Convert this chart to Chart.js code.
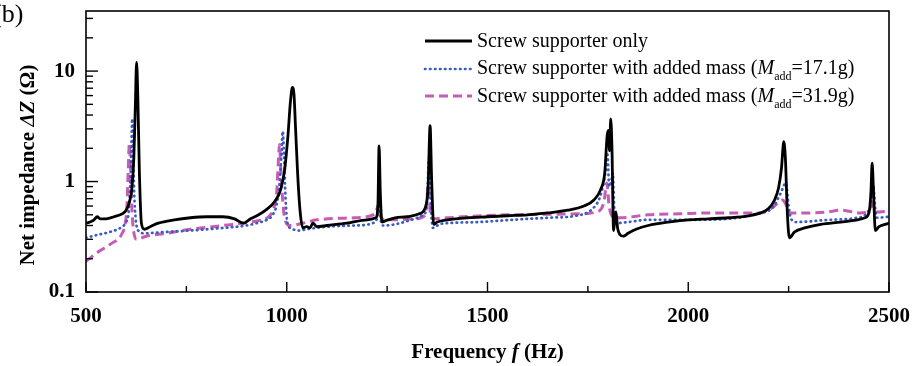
<!DOCTYPE html>
<html>
<head>
<meta charset="utf-8">
<script src="https://cdn.jsdelivr.net/npm/chart.js@4.4.0/dist/chart.umd.min.js"></script>
<style>
  html, body { margin: 0; padding: 0; background: #fff; }
  canvas { display: block; }
</style>
</head>
<body>
<canvas id="impedanceChart" width="913" height="366"></canvas>
<script>
// Screw supporter only
const freqOnly = [500, 510, 520, 528, 535, 550, 570, 590, 600, 608, 614, 619, 623, 626, 629, 633, 638, 645, 660, 680,
    720, 760, 800, 840, 870, 892, 910, 930, 950, 970, 985, 995, 1003, 1009, 1014, 1018, 1022, 1027, 1033, 1040,
    1050, 1058, 1065, 1075, 1100, 1150, 1200, 1222, 1227, 1230, 1233, 1237, 1245, 1270, 1300, 1330, 1345, 1352, 1357, 1361,
    1366, 1375, 1400, 1450, 1500, 1550, 1600, 1650, 1700, 1740, 1765, 1782, 1792, 1798, 1801, 1804, 1807, 1810, 1814, 1817,
    1820, 1824, 1830, 1838, 1850, 1870, 1900, 1950, 2000, 2050, 2100, 2150, 2180, 2200, 2215, 2225, 2232, 2238, 2242, 2247,
    2252, 2265, 2290, 2330, 2380, 2420, 2440, 2450, 2455, 2458, 2461, 2466, 2475, 2490, 2500];
const zOnly = [0.42, 0.43, 0.45, 0.48, 0.46, 0.46, 0.48, 0.51, 0.55, 0.65, 0.85, 1.6, 5, 12, 6, 1.2, 0.42, 0.37, 0.39, 0.42,
    0.45, 0.47, 0.48, 0.48, 0.46, 0.42, 0.46, 0.50, 0.56, 0.66, 0.85, 1.3, 2.6, 5.2, 7.1, 6.2, 3.0, 1.2, 0.55, 0.38,
    0.39, 0.38, 0.42, 0.39, 0.40, 0.42, 0.45, 0.47, 0.6, 2.1, 0.8, 0.43, 0.44, 0.47, 0.48, 0.51, 0.58, 0.9, 3.2, 1.0,
    0.41, 0.43, 0.45, 0.47, 0.48, 0.49, 0.50, 0.52, 0.55, 0.60, 0.68, 0.85, 1.2, 2.6, 2.9, 1.9, 3.7, 2.0, 0.36, 0.45,
    0.53, 0.38, 0.33, 0.32, 0.34, 0.37, 0.40, 0.43, 0.45, 0.46, 0.47, 0.49, 0.52, 0.57, 0.68, 0.88, 1.3, 2.3, 1.6, 0.5,
    0.31, 0.35, 0.38, 0.41, 0.43, 0.45, 0.47, 0.52, 0.8, 1.47, 0.9, 0.36, 0.39, 0.41, 0.42];

// Screw supporter with added mass, 17.1 g
const freqM17 = [500, 530, 560, 590, 600, 606, 610, 613, 615, 617, 620, 624, 630, 645, 700, 760, 840, 900, 925, 950,
    965, 975, 982, 987, 990, 993, 997, 1002, 1015, 1030, 1050, 1100, 1170, 1220, 1226, 1230, 1234, 1240, 1270, 1310,
    1340, 1349, 1354, 1358, 1364, 1380, 1400, 1480, 1560, 1650, 1720, 1760, 1780, 1790, 1796, 1799, 1803, 1808, 1812, 1816,
    1822, 1850, 1900, 1950, 2000, 2100, 2180, 2210, 2230, 2243, 2250, 2256, 2270, 2350, 2420, 2445, 2456, 2461, 2465, 2470,
    2500];
const zM17 = [0.31, 0.33, 0.35, 0.39, 0.43, 0.52, 0.9, 2.0, 3.7, 2.2, 0.8, 0.45, 0.36, 0.34, 0.35, 0.36, 0.38, 0.40, 0.42, 0.45,
    0.50, 0.62, 0.95, 1.8, 2.85, 1.8, 0.7, 0.42, 0.37, 0.36, 0.37, 0.39, 0.40, 0.43, 0.5, 0.71, 0.45, 0.40, 0.41, 0.45,
    0.50, 0.6, 1.63, 0.7, 0.38, 0.41, 0.42, 0.43, 0.45, 0.47, 0.49, 0.56, 0.72, 1.0, 1.4, 1.75, 0.9, 1.0, 1.19, 0.53,
    0.42, 0.43, 0.45, 0.45, 0.45, 0.46, 0.52, 0.58, 0.78, 0.97, 0.6, 0.46, 0.43, 0.45, 0.47, 0.52, 0.65, 0.93, 0.6, 0.47,
    0.48];

// Screw supporter with added mass, 31.9 g
const freqM32 = [500, 530, 560, 590, 598, 602, 605, 608, 611, 614, 618, 626, 650, 700, 760, 840, 925, 955, 968, 975,
    979, 982, 985, 989, 995, 1008, 1040, 1075, 1170, 1220, 1229, 1237, 1260, 1320, 1345, 1353, 1358, 1365, 1400, 1560,
    1730, 1770, 1790, 1797, 1803, 1812, 1830, 1900, 1980, 2050, 2100, 2180, 2212, 2235, 2245, 2252, 2300, 2345, 2380, 2428,
    2450, 2459, 2466, 2500];
const zM32 = [0.19, 0.23, 0.27, 0.34, 0.42, 0.6, 1.2, 2.2, 1.3, 0.6, 0.37, 0.30, 0.32, 0.34, 0.37, 0.40, 0.44, 0.48, 0.58, 0.8,
    1.5, 2.16, 1.3, 0.75, 0.46, 0.40, 0.42, 0.45, 0.47, 0.51, 0.62, 0.46, 0.45, 0.46, 0.50, 0.91, 0.5, 0.46, 0.47, 0.50,
    0.51, 0.53, 0.65, 0.97, 0.6, 0.48, 0.47, 0.50, 0.51, 0.52, 0.52, 0.52, 0.59, 0.68, 0.6, 0.52, 0.52, 0.53, 0.55, 0.52,
    0.55, 0.62, 0.53, 0.54];

const seriesLabels = [
    'Screw supporter only',
    'Screw supporter with added mass (Madd=17.1g)',
    'Screw supporter with added mass (Madd=31.9g)'
];
const xLabelValues = [500, 1000, 1500, 2000, 2500];
const yLabelValues = [0.1, 1, 10];

const FONT = '"Liberation Serif", "Times New Roman", serif';

function toPoints(xs, ys) {
    return xs.map((x, i) => ({ x: x, y: ys[i] }));
}

// Draws a run of text pieces (plain / italic / subscript) starting at x
function drawRich(ctx, parts, x, y, size, weight) {
    parts.forEach(p => {
        const fs = p.sub ? Math.round(size * 0.6) : size;
        ctx.font = (p.italic ? 'italic ' : '') + weight + ' ' + fs + 'px ' + FONT;
        ctx.fillText(p.text, x, y + (p.sub ? size * 0.3 : 0));
        x += ctx.measureText(p.text).width;
    });
    return x;
}

function richWidth(ctx, parts, size, weight) {
    let w = 0;
    parts.forEach(p => {
        const fs = p.sub ? Math.round(size * 0.6) : size;
        ctx.font = (p.italic ? 'italic ' : '') + weight + ' ' + fs + 'px ' + FONT;
        w += ctx.measureText(p.text).width;
    });
    return w;
}

// split "(Madd=17.1g)" style labels into italic M + subscript
function labelParts(label) {
    const m = label.match(/^(.*\()M(add)(=.*)$/);
    if (!m) return [{ text: label }];
    return [{ text: m[1] }, { text: 'M', italic: true }, { text: m[2], sub: true }, { text: m[3] }];
}

// keep the plot box where the layout padding says, not where label overflow pushes it
function fixScale(s, size) {
    if (s.isHorizontal()) s.height = size; else s.width = size;
    s.paddingTop = 0;
    s.paddingBottom = 0;
    s.paddingLeft = 0;
    s.paddingRight = 0;
}

const framePlugin = {
    id: 'frameAndDecor',
    afterDraw(chart) {
        const ctx = chart.ctx;
        const ca = chart.chartArea;
        const xs = chart.scales.x;
        const ys = chart.scales.y;
        ctx.save();
        ctx.strokeStyle = '#000';
        ctx.fillStyle = '#000';

        // frame
        ctx.lineWidth = 1.6;
        ctx.strokeRect(ca.left, ca.top, ca.right - ca.left, ca.bottom - ca.top);

        // inward ticks on x axis
        ctx.lineWidth = 1.4;
        xs.ticks.forEach(t => {
            const px = xs.getPixelForValue(t.value);
            const len = xLabelValues.includes(t.value) ? 10 : 6;
            ctx.beginPath();
            ctx.moveTo(px, ca.bottom);
            ctx.lineTo(px, ca.bottom - len);
            ctx.stroke();
        });

        // inward ticks on y axis (log decades with minors)
        ys.ticks.forEach(t => {
            const v = t.value;
            const e = Math.floor(Math.log10(v) + 1e-9);
            const mant = v / Math.pow(10, e);
            if (Math.abs(mant - Math.round(mant)) > 1e-6) return;
            const py = ys.getPixelForValue(v);
            if (py < ca.top + 1) return;
            const len = Math.round(mant) === 1 ? 12 : 7;
            ctx.beginPath();
            ctx.moveTo(ca.left, py);
            ctx.lineTo(ca.left + len, py);
            ctx.stroke();
        });

        // panel tag
        ctx.font = '26px ' + FONT;
        ctx.textBaseline = 'alphabetic';
        ctx.textAlign = 'left';
        ctx.fillText('(b)', -7, 22);

        // x axis title
        const xTitle = [{ text: 'Frequency ' }, { text: 'f', italic: true }, { text: ' (Hz)' }];
        ctx.textBaseline = 'middle';
        let w = richWidth(ctx, xTitle, 21, 'bold');
        drawRich(ctx, xTitle, (ca.left + ca.right) / 2 - w / 2, 353, 21, 'bold');

        // y axis title
        const yTitle = [{ text: 'Net impedance ' }, { text: '\u0394Z', italic: true }, { text: ' (\u03A9)' }];
        w = richWidth(ctx, yTitle, 21, 'bold');
        ctx.save();
        ctx.translate(29, 165);
        ctx.rotate(-Math.PI / 2);
        drawRich(ctx, yTitle, -w / 2, 0, 21, 'bold');
        ctx.restore();

        // legend
        const rowLine = [41, 69, 96];
        const rowBase = [47, 74, 102];
        ctx.textBaseline = 'alphabetic';
        chart.data.datasets.forEach((ds, i) => {
            ctx.save();
            ctx.strokeStyle = ds.borderColor;
            ctx.lineWidth = ds.borderWidth;
            ctx.lineCap = ds.borderCapStyle || 'butt';
            ctx.setLineDash(ds.borderDash || []);
            ctx.beginPath();
            ctx.moveTo(425, rowLine[i]);
            ctx.lineTo(472, rowLine[i]);
            ctx.stroke();
            ctx.restore();
            ctx.fillStyle = '#000';
            drawRich(ctx, labelParts(ds.label), 477, rowBase[i], 20, 'normal');
        });

        ctx.restore();
    }
};

const ctx = document.getElementById('impedanceChart').getContext('2d');
new Chart(ctx, {
    type: 'line',
    data: {
        datasets: [
            {
                label: seriesLabels[0],
                data: toPoints(freqOnly, zOnly),
                borderColor: '#000000',
                borderWidth: 2.8,
                pointRadius: 0,
                cubicInterpolationMode: 'monotone'
            },
            {
                label: seriesLabels[1],
                data: toPoints(freqM17, zM17),
                borderColor: '#3a5bbf',
                borderWidth: 2.7,
                borderDash: [0.5, 4.5],
                borderCapStyle: 'round',
                pointRadius: 0,
                cubicInterpolationMode: 'monotone'
            },
            {
                label: seriesLabels[2],
                data: toPoints(freqM32, zM32),
                borderColor: '#c65cb6',
                borderWidth: 3,
                borderDash: [9, 5],
                pointRadius: 0,
                cubicInterpolationMode: 'monotone'
            }
        ]
    },
    options: {
        responsive: false,
        animation: false,
        devicePixelRatio: 1,
        layout: { padding: { left: 0, right: 24, top: 11, bottom: 0 } },
        plugins: {
            legend: { display: false },
            tooltip: { enabled: false }
        },
        scales: {
            x: {
                type: 'linear',
                min: 500,
                max: 2500,
                afterFit: s => fixScale(s, 74),
                grid: { display: false, drawTicks: false },
                border: { display: false },
                ticks: {
                    stepSize: 250,
                    autoSkip: false,
                    maxRotation: 0,
                    padding: 12,
                    color: '#000',
                    font: { family: FONT, size: 21, weight: 'bold' },
                    callback: v => xLabelValues.includes(v) ? String(v) : ''
                }
            },
            y: {
                type: 'logarithmic',
                min: 0.1,
                max: 35,
                afterFit: s => fixScale(s, 86),
                grid: { display: false, drawTicks: false },
                border: { display: false },
                ticks: {
                    autoSkip: false,
                    padding: 11,
                    color: '#000',
                    font: { family: FONT, size: 21, weight: 'bold' },
                    callback: v => {
                        const hit = yLabelValues.find(l => Math.abs(l - v) < 1e-9);
                        return hit !== undefined ? String(hit) : '';
                    }
                }
            }
        }
    },
    plugins: [framePlugin]
});
</script>
</body>
</html>
